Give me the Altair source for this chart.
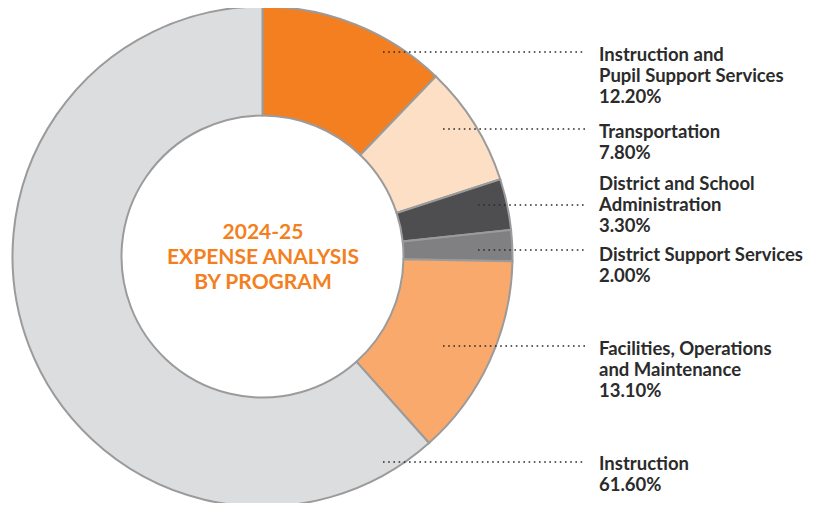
import altair as alt
import pandas as pd

# ---- data ----
categories = [
    "Instruction and Pupil Support Services",
    "Transportation",
    "District and School Administration",
    "District Support Services",
    "Facilities, Operations and Maintenance",
    "Instruction",
]
values = [12.2, 7.8, 3.3, 2.0, 13.1, 61.6]
label_lines = [
    ["Instruction and", "Pupil Support Services", "12.20%"],
    ["Transportation", "7.80%"],
    ["District and School", "Administration", "3.30%"],
    ["District Support Services", "2.00%"],
    ["Facilities, Operations", "and Maintenance", "13.10%"],
    ["Instruction", "61.60%"],
]
title_lines = ["2024-25", "EXPENSE ANALYSIS", "BY PROGRAM"]

# ---- layout (annotation positions, page px minus 8px margin) ----
colors = ["#F47F20", "#FDDFC6", "#4E4E50", "#808083", "#F9A96C", "#DCDDDF"]
label_first_baseline = [53, 130, 182, 253, 347, 462]
leader_y = [44, 121, 197, 242, 338, 454]
leader_x0 = [375, 435, 470, 470, 435, 375]
leader_x1 = 577
text_x = 591
line_h = 21
cx, cy = 254.5, 248.5

W, H = 801, 495

df = pd.DataFrame({"category": categories, "value": values, "order": range(len(values))})

xs = alt.Scale(domain=[0, W], range=[0, W])
ys = alt.Scale(domain=[0, H], range=[0, H])

donut = alt.Chart(df).mark_arc(
    outerRadius=250, innerRadius=141, stroke="#9B9B9B", strokeWidth=2
).encode(
    theta=alt.Theta("value:Q", stack=True, scale=alt.Scale(domain=[0, 100])),
    order=alt.Order("order:Q"),
    color=alt.Color("category:N", scale=alt.Scale(domain=categories, range=colors), legend=None),
    x=alt.value(cx),
    y=alt.value(cy),
)

rows = []
for i, lines in enumerate(label_lines):
    for j, t in enumerate(lines):
        rows.append({"t": t, "x": text_x, "y": label_first_baseline[i] + j * line_h})
lab_df = pd.DataFrame(rows)

labels = alt.Chart(lab_df).mark_text(
    align="left", baseline="alphabetic", font="Lato", fontWeight="bold",
    fontSize=18.5, color="#2B2B2B"
).encode(
    x=alt.X("x:Q", scale=xs, axis=None),
    y=alt.Y("y:Q", scale=ys, axis=None),
    text="t:N",
)

lead_df = pd.DataFrame({"x0": leader_x0, "x1": [leader_x1] * 6, "y": leader_y})
leaders = alt.Chart(lead_df).mark_rule(
    color="#2B2B2B", strokeWidth=1.6, strokeDash=[1.6, 3.6]
).encode(
    x=alt.X("x0:Q", scale=xs, axis=None),
    x2="x1:Q",
    y=alt.Y("y:Q", scale=ys, axis=None),
)

title_df = pd.DataFrame({"t": title_lines, "x": [255] * 3, "y": [231, 256, 281]})
title = alt.Chart(title_df).mark_text(
    align="center", baseline="alphabetic", font="Lato", fontWeight="bold",
    fontSize=21, color="#F47F20"
).encode(
    x=alt.X("x:Q", scale=xs, axis=None),
    y=alt.Y("y:Q", scale=ys, axis=None),
    text="t:N",
)

chart = alt.layer(donut, leaders, labels, title).properties(
    width=W, height=H, autosize=alt.AutoSizeParams(type="none"), padding=0
).configure_view(stroke=None)

chart.save("out.html", embed_options={"renderer": "svg", "actions": False})
